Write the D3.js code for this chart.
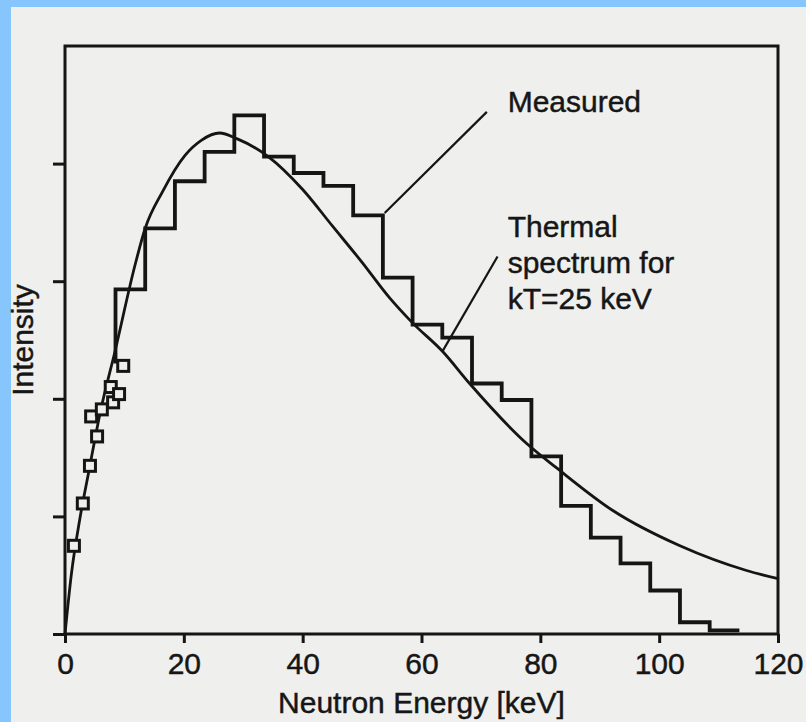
<!DOCTYPE html>
<html>
<head>
<meta charset="utf-8">
<script src="https://cdn.jsdelivr.net/npm/d3@7/dist/d3.min.js"></script>
<style>
body{margin:0;background:#efefed;overflow:hidden}
text{font-family:"Liberation Sans",Arial,Helvetica,sans-serif;fill:#161616;stroke:#161616;stroke-width:0.45}
</style>
</head>
<body>
<div id="graph"></div>
<script>
"use strict"
// axis
var xTicks=[0,20,40,60,80,100,120]
var yTicks=[0,1,2,3,4]
var xTitle='Neutron Energy [keV]'
var yTitle='Intensity'

// measured histogram, 5 keV bins (left edges + last right edge)
var binEdges=[8.5,13.5,18.5,23.5,28.5,33.5,38.5,43.5,48.5,53.5,58.5,63.5,68.5,73.5,78.5,83.5,88.5,93.5,98.5,103.5,108.5,113.5]
var binCounts=[2.93,3.45,3.85,4.10,4.41,4.06,3.92,3.81,3.56,3.03,2.63,2.52,2.13,1.99,1.51,1.09,0.82,0.60,0.37,0.10,0.03]
var histStart=2.3

// low energy measured points (squares)
var pointE=[1.5,3.0,4.2,5.4,4.4,6.2,8.1,7.7,9.1,9.8]
var pointI=[0.75,1.11,1.43,1.68,1.85,1.91,1.97,2.10,2.04,2.28]

// thermal spectrum kT=25 keV
var thermE=[0,1.1,2.5,4,6,8.4,11.8,13.5,16.4,20.2,23,26,29,34.2,40,45,50,54.6,58.4,63.6,68.1,77.7,82.8,92.2,103.5,114.7,120]
var thermI=[0,0.52,0.98,1.38,1.90,2.40,3.14,3.45,3.76,4.07,4.20,4.26,4.21,4.06,3.78,3.47,3.16,2.86,2.65,2.40,2.13,1.62,1.41,1.05,0.75,0.54,0.47]

// annotations
var noteText=[['Measured'],['Thermal','spectrum for','kT=25 keV']]
var noteAt=[[74.5,4.44],[74.5,3.38]]
var leaderFrom=[[71.0,4.44],[72.8,3.21]]
var leaderTo=[[53.8,3.58],[63.6,2.41]]

function init(){
  var W=806,H=722
  var svg=d3.select('#graph').append('svg').attr('width',W).attr('height',H)
  svg.append('rect').attr('width',W).attr('height',H).attr('fill','#efefed')
  // blue frame of the screenshot
  svg.append('rect').attr('x',0).attr('y',0).attr('width',W).attr('height',7).attr('fill','#86c6fd')
  svg.append('rect').attr('x',0).attr('y',0).attr('width',11).attr('height',H).attr('fill','#86c6fd')

  var x=d3.scaleLinear().domain([0,120]).range([65,778])
  var y=d3.scaleLinear().domain([0,5]).range([634,46])

  // frame
  svg.append('rect').attr('x',x(0)).attr('y',y(5)).attr('width',x(120)-x(0)).attr('height',y(0)-y(5))
    .attr('fill','none').attr('stroke','#151515').attr('stroke-width',3)

  var ax=svg.append('g').attr('transform','translate(0,'+y(0)+')')
    .call(d3.axisBottom(x).tickValues(xTicks).tickSize(9).tickPadding(10).tickSizeOuter(0))
  ax.select('.domain').remove()
  ax.selectAll('line').attr('stroke','#151515').attr('stroke-width',3)
  ax.selectAll('text').attr('font-size',30).attr('fill','#161616')
    .style('font-family','"Liberation Sans",Arial,sans-serif')

  var ay=svg.append('g').attr('transform','translate('+x(0)+',0)')
    .call(d3.axisLeft(y).tickValues(yTicks).tickSize(12).tickFormat('').tickSizeOuter(0))
  ay.select('.domain').remove()
  ay.selectAll('line').attr('stroke','#151515').attr('stroke-width',3)

  svg.append('text').attr('x',(x(0)+x(120))/2).attr('y',713).attr('text-anchor','middle')
    .attr('font-size',30).text(xTitle)
  svg.append('text').attr('transform','translate(33,'+(y(0)+y(5))/2+')rotate(-90)')
    .attr('text-anchor','middle').attr('font-size',30).text(yTitle)

  // thermal curve
  var thermal=thermE.map(function(e,i){return [e,thermI[i]]})
  var line=d3.line().x(function(d){return x(d[0])}).y(function(d){return y(d[1])})
  svg.append('path').attr('d',line.curve(d3.curveMonotoneX)(thermal))
    .attr('fill','none').attr('stroke','#151515').attr('stroke-width',2.8)

  // histogram
  var steps=[[binEdges[0],histStart]]
  for(var i=0;i<binCounts.length;i++)
    steps.push([binEdges[i],binCounts[i]])
  steps.push([binEdges[binEdges.length-1],binCounts[binCounts.length-1]])
  svg.append('path').attr('d',line.curve(d3.curveStepAfter)(steps))
    .attr('fill','none').attr('stroke','#151515').attr('stroke-width',3.8).attr('stroke-linejoin','miter')

  // squares
  svg.selectAll('rect.pt').data(pointE).enter().append('rect').attr('class','pt')
    .attr('x',function(d){return x(d)-5.5}).attr('y',function(d,i){return y(pointI[i])-5.5})
    .attr('width',11).attr('height',11)
    .attr('fill','#efefed').attr('stroke','#151515').attr('stroke-width',3)

  // leaders and notes
  for(i=0;i<leaderFrom.length;i++)
    svg.append('line').attr('x1',x(leaderFrom[i][0])).attr('y1',y(leaderFrom[i][1]))
      .attr('x2',x(leaderTo[i][0])).attr('y2',y(leaderTo[i][1]))
      .attr('stroke','#151515').attr('stroke-width',2.2)
  for(i=0;i<noteText.length;i++){
    var t=svg.append('text').attr('font-size',30)
    for(var j=0;j<noteText[i].length;j++)
      t.append('tspan').attr('x',x(noteAt[i][0])).attr('y',y(noteAt[i][1])+j*36).text(noteText[i][j])
  }
}

init()
</script>
</body>
</html>
